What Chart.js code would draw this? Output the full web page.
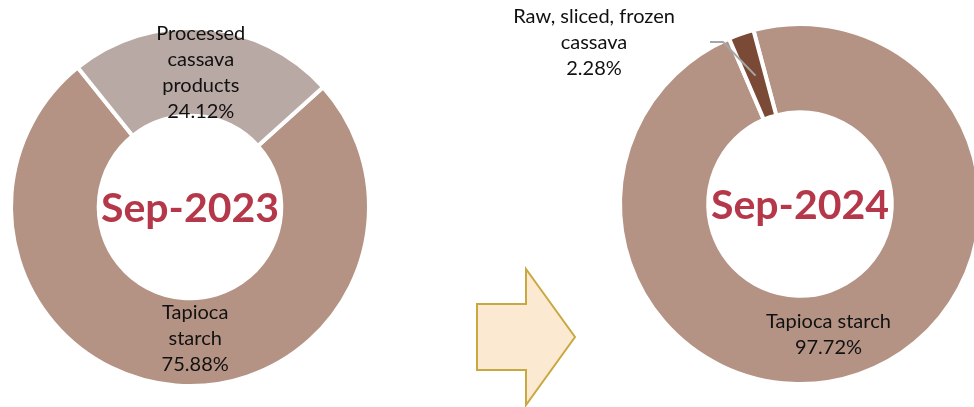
<!DOCTYPE html>
<html>
<head>
<meta charset="utf-8">
<script src="https://cdn.jsdelivr.net/npm/chart.js@4.4.1/dist/chart.umd.min.js"></script>
<style>
  html, body { margin: 0; padding: 0; background: #fff; overflow: hidden; }
  #wrap { position: relative; width: 974px; height: 407px; overflow: hidden; }
  canvas, svg { position: absolute; }
</style>
</head>
<body>
<div id="wrap">
  <canvas id="chart2023" width="420" height="407" style="left:0;top:0"></canvas>
  <svg id="arrow" width="974" height="407" style="left:0;top:0">
    <polygon points="477,304 526,304 526,269 575,337 526,405 526,370 477,370"
             fill="#FCE9D2" stroke="#C8A841" stroke-width="2"/>
  </svg>
  <canvas id="chart2024" width="620" height="407" style="left:490px;top:0"></canvas>
</div>
<script>
// Dati
const categories2023 = ["Tapioca starch", "Processed cassava products"];
const values2023 = [75.88, 24.12];
const lines2023 = [["Tapioca", "starch"], ["Processed", "cassava", "products"]];

const categories2024 = ["Tapioca starch", "Raw, sliced, frozen cassava"];
const values2024 = [97.72, 2.28];
const lines2024 = [["Tapioca starch"], ["Raw, sliced, frozen", "cassava"]];

const periods = ["Sep-2023", "Sep-2024"];

const FONT = "Lato, 'Open Sans', sans-serif";
const colors2023 = ["#B49384", "#B8A9A4"];
const colors2024 = ["#B49384", "#7A4A37"];

// Plugin: testo al centro + etichette delle fette
const donutLabels = {
  id: "donutLabels",
  afterDatasetsDraw(chart, args, opts) {
    const ctx = chart.ctx;
    const area = chart.chartArea;
    const cx = (area.left + area.right) / 2;
    const cy = (area.top + area.bottom) / 2;

    ctx.save();
    ctx.textAlign = "center";
    ctx.textBaseline = "middle";

    // titolo centrale
    ctx.fillStyle = "#B5384A";
    ctx.font = "bold 41px " + FONT;
    ctx.fillText(opts.title, cx, cy + 2);

    const meta = chart.getDatasetMeta(0);
    const values = chart.data.datasets[0].data;
    ctx.font = "20px " + FONT;
    ctx.fillStyle = "#111";

    meta.data.forEach((arc, i) => {
      const pos = arc.tooltipPosition();
      const pct = values[i].toFixed(2) + "%";
      const lines = opts.lines[i].concat([pct]);
      const lab = opts.place[i];
      let lx, ly;
      if (lab.callout) {
        // etichetta esterna con linea guida
        lx = cx + lab.callout.text[0];
        ly = cy + lab.callout.text[1];
        ctx.strokeStyle = "#A6A6A6";
        ctx.lineWidth = 2;
        ctx.beginPath();
        ctx.moveTo(pos.x, pos.y);
        ctx.lineTo(cx + lab.callout.elbow[0], cy + lab.callout.elbow[1]);
        ctx.lineTo(cx + lab.callout.end[0], cy + lab.callout.end[1]);
        ctx.stroke();
      } else {
        lx = pos.x + lab.dx;
        ly = pos.y + lab.dy;
      }
      const lh = 26;
      const top = ly - (lines.length - 1) * lh / 2;
      lines.forEach((t, k) => ctx.fillText(t, lx, top + k * lh));
    });
    ctx.restore();
  }
};

function makeDonut(id, categories, values, colors, rotation, padding, labelOpts) {
  return new Chart(document.getElementById(id), {
    type: "doughnut",
    data: {
      labels: categories,
      datasets: [{
        data: values,
        backgroundColor: colors,
        borderColor: "#fff",
        borderWidth: 4,
      }],
    },
    options: {
      responsive: false,
      animation: false,
      cutout: "51%",
      rotation: rotation,
      layout: { padding: padding },
      plugins: {
        legend: { display: false },
        tooltip: { enabled: false },
        donutLabels: labelOpts,
      },
    },
    plugins: [donutLabels],
  });
}

makeDonut("chart2023", categories2023, values2023, colors2023, 48,
  { left: 9, right: 49, top: 25, bottom: 18 },
  {
    title: periods[0],
    lines: lines2023,
    place: [{ dx: 16, dy: -3 }, { dx: 0, dy: 0 }],
  });

makeDonut("chart2024", categories2024, values2024, colors2024, -15,
  { left: 128, right: 128, top: 22, bottom: 21 },
  {
    title: periods[1],
    lines: lines2024,
    place: [
      { dx: -16, dy: 2 },
      { callout: { text: [-206, -161], elbow: [-77, -162], end: [-90, -162] } },
    ],
  });
</script>
</body>
</html>
